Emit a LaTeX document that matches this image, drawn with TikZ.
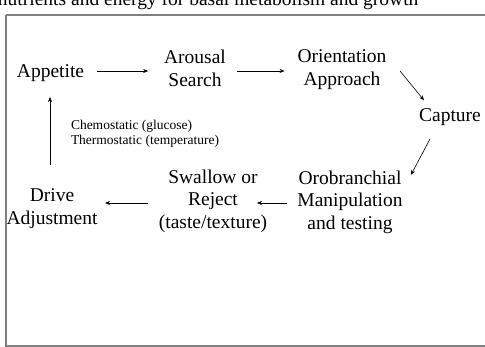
\documentclass[tikz,border=0pt]{standalone}
\usepackage{fontspec}
\setmainfont{Liberation Serif}
\usetikzlibrary{calc,arrows.meta}
\begin{document}
\begin{tikzpicture}[x=1pt,y=1pt,
  lbl/.style={inner sep=0pt,outer sep=0pt,align=center,font=\fontsize{19.5}{22.5}\selectfont},
  small/.style={inner sep=0pt,outer sep=0pt,align=left,font=\fontsize{13.5}{15}\selectfont},
  arr/.style={line width=0.6pt,-{Stealth[length=5pt,width=4pt]}},
  frame/.style={draw=black!50,line width=1.5pt}]
\useasboundingbox (0,0) rectangle (485,-347);
\clip (0,0) rectangle (485,-347);
\node[lbl,anchor=base west] (top) at (-2,-5.5) {nutrients and energy for basal metabolism and growth};
\draw[frame] (6,-15) -- (6,-346) -- (500,-346);
\draw[frame] (6,-15) -- (500,-15);
\node[lbl,anchor=base] (app) at (50.5,-78) {Appetite};
\node[lbl] (aro) at (195,-68.5) {Arousal\\Search};
\node[lbl] (ori) at (342,-69.5) {Orientation\\Approach};
\node[lbl,anchor=base] (cap) at (450,-122) {Capture};
\node[lbl] (oro) at (350,-202) {Orobranchial\\Manipulation\\and testing};
\node[lbl] (swa) at (213,-201) {Swallow or\\Reject\\(taste/texture)};
\node[lbl] (drv) at (52,-208.5) {Drive\\Adjustment};
\node[small,anchor=west] (chem) at (71,-133.4) {Chemostatic (glucose)\\Thermostatic (temperature)};
\draw[arr] ($(app.east)+(13,2.6)$) -- ($(app.east -| aro.west)+(-16,2.6)$);
\draw[arr] ($(aro.east)+(11,-2.5)$) -- ($(aro.east -| ori.west)+(-13,-2.5)$);
\draw[arr] ($(ori.east)+(13.6,-1.5)$) -- ($(cap.north)+(-26,8.8)$);
\draw[arr] ($(cap.south)+(-20,-12.8)$) -- ($(oro.north east)+(8.4,-4.3)$);
\draw[arr] ($(oro.west)+(-10.4,-1)$) -- ($(oro.west -| swa.east)+(-10.2,-1)$);
\draw[arr] ($(swa.west)+(-10.8,-2)$) -- ($(swa.west -| drv.east)+(7.5,-2)$);
\draw[arr] ($(drv.north)+(-2,23.8)$) -- ($(drv.north |- app.south)+(-2,-14.8)$);
\end{tikzpicture}
\end{document}
